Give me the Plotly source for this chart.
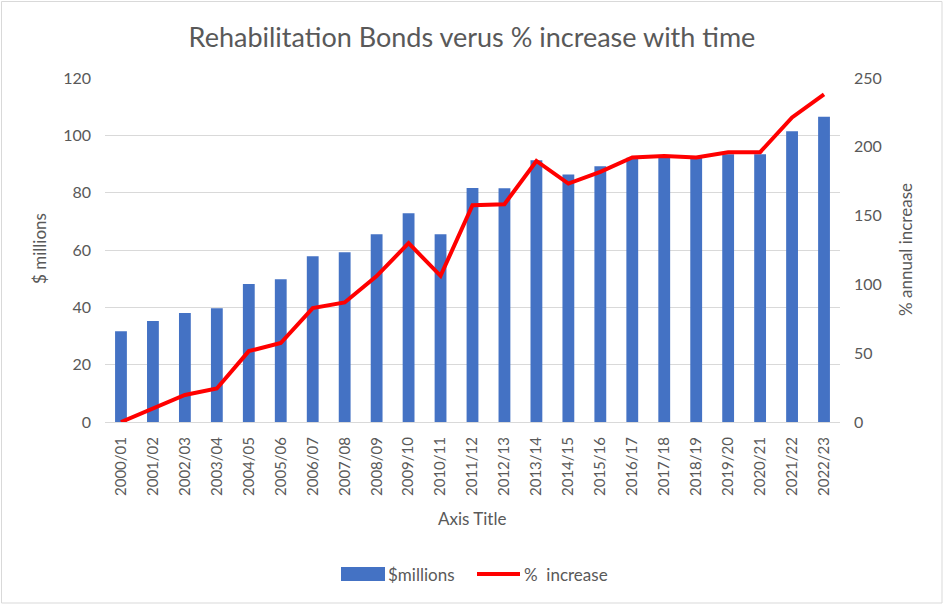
import plotly.graph_objects as go

years = ["2000/01", "2001/02", "2002/03", "2003/04", "2004/05", "2005/06",
         "2006/07", "2007/08", "2008/09", "2009/10", "2010/11", "2011/12",
         "2012/13", "2013/14", "2014/15", "2015/16", "2016/17", "2017/18",
         "2018/19", "2019/20", "2020/21", "2021/22", "2022/23"]

millions = [31.7, 35.2, 38.0, 39.7, 48.1, 49.8, 57.8, 59.2, 65.5, 72.8, 65.5,
            81.6, 81.5, 91.3, 86.3, 89.2, 92.2, 92.7, 92.4, 93.4, 93.4,
            101.4, 106.5]

pct_increase = [0, 9.9, 19.6, 24.4, 51.5, 57.4, 82.8, 86.9, 106, 130, 106.2,
                157.5, 158.3, 189.7, 173.3, 181.8, 192.2, 193.4, 192.2, 196.1,
                196.1, 221.3, 238.1]

grey = "#595959"
blue = "#4472C4"
red = "#FF0000"
font = "Lato"

# plot area in pixels: x 105..840, y 78..422
L, R, T, B = 105, 840, 78, 422
W, H = R - L, B - T


def px(x):
    return (x - L) / W


def py(y):
    return (B - y) / H


def label(text, x, y, angle=0, anchor="center", size=17):
    return dict(text=text, xref="paper", yref="paper", x=px(x), y=py(y),
                textangle=angle, xanchor=anchor, yanchor="middle",
                showarrow=False, font=dict(size=size, color=grey))


fig = go.Figure()
fig.add_trace(go.Bar(x=years, y=millions, name="$millions",
                     marker=dict(color=blue, line=dict(width=0)),
                     width=0.37))
fig.add_trace(go.Scatter(x=years, y=pct_increase, name="%  increase",
                         mode="lines", yaxis="y2",
                         line=dict(color=red, width=4)))

fig.update_layout(
    width=944, height=605,
    margin=dict(l=L, r=944 - R, t=T, b=605 - B),
    paper_bgcolor="white", plot_bgcolor="white",
    font=dict(family=font, color=grey, size=15),
    showlegend=False,
    title=dict(text="Rehabilitation Bonds verus % increase with time",
               x=0.5, xanchor="center", y=1 - 38 / 605, yanchor="middle",
               font=dict(size=27, color=grey)),
    xaxis=dict(tickangle=-90, showgrid=False, showline=True,
               linecolor="#D9D9D9", linewidth=1, ticks="",
               ticklabelstandoff=8,
               tickfont=dict(size=15, color=grey)),
    yaxis=dict(range=[0, 120], dtick=20, gridcolor="#D9D9D9",
               zeroline=False, ticks="", ticklabelstandoff=13,
               tickfont=dict(size=16, color=grey)),
    yaxis2=dict(range=[0, 250], dtick=50, overlaying="y", side="right",
                showgrid=False, zeroline=False, ticks="",
                ticklabelstandoff=13,
                tickfont=dict(size=16, color=grey)),
    shapes=[
        # chart border
        dict(type="rect", xref="paper", yref="paper",
             x0=px(1.5), x1=px(942), y0=py(603), y1=py(1.5),
             line=dict(color="#D9D9D9", width=1)),
        # legend keys
        dict(type="rect", xref="paper", yref="paper",
             x0=px(341), x1=px(385), y0=py(581), y1=py(567),
             fillcolor=blue, line=dict(width=0)),
        dict(type="line", xref="paper", yref="paper",
             x0=px(477), x1=px(520), y0=py(574), y1=py(574),
             line=dict(color=red, width=4)),
    ],
    annotations=[
        label("$ millions", 39, 249, angle=-90),
        label("% annual increase", 905, 250, angle=-90),
        label("Axis Title", 472, 518),
        label("$millions", 386, 574, anchor="left"),
        label("%  increase", 522, 574, anchor="left"),
    ],
)

fig.write_html("out.html", config={"displayModeBar": False},
               post_script="document.body.style.margin='0';")
